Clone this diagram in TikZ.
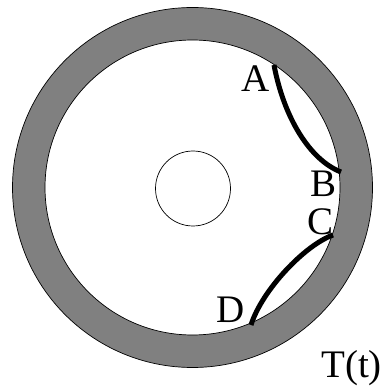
\documentclass[tikz,border=0pt]{standalone}
\usepackage{fontspec}
\setmainfont{Liberation Serif}
\usetikzlibrary{calc}
\definecolor{ringgray}{HTML}{808080}
\tikzset{
  outline/.style={draw=black, line width=0.7pt},
  arcline/.style={draw=black, line width=5pt},
  lbl/.style={font=\fontsize{39}{42}\selectfont, inner sep=0pt, anchor=base}
}
\begin{document}
\begin{tikzpicture}[x=1pt,y=1pt]
\useasboundingbox (0,0) rectangle (382,389);
\coordinate (O) at (192.5,201.5);
\fill[ringgray, even odd rule] (O) circle (180) (O) circle (147.5);
\draw[outline] (O) circle (180);
\draw[outline] (O) circle (147.5);
\node[outline, circle, minimum size=75pt, inner sep=0pt] (hub) at (193,200.5) {};
\coordinate (A) at (274,324);
\coordinate (B) at (341,217);
\coordinate (C) at (333,154);
\coordinate (D) at (251,64);
\draw[arcline] (A) .. controls (284,271) and (310,229) .. (B);
\draw[arcline] (C) .. controls (305,144) and (262,99) .. (D);
\node[lbl] (lA) at (256,297.3) {A};
\node[lbl] (lB) at (324,192) {B};
\node[lbl] (lC) at (321,154.5) {C};
\node[lbl] (lD) at (231,66) {D};
\node[lbl, anchor=base west] (lT) at (321,12) {T(t)};
\end{tikzpicture}
\end{document}
